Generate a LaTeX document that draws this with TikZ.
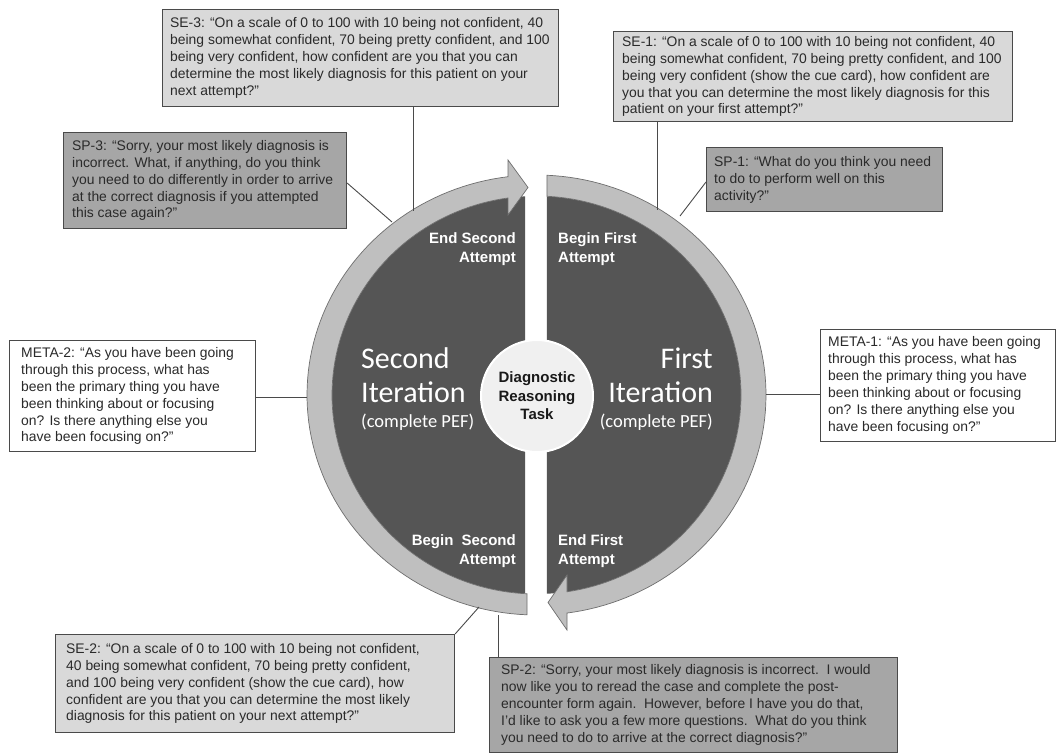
\documentclass[tikz,border=0pt]{standalone}
\usepackage{fontspec}
\setmainfont{Liberation Sans}
\newfontfamily\calib{Carlito}
\definecolor{ringfill}{HTML}{BFBFBF}
\definecolor{darkfill}{HTML}{555555}
\definecolor{boxlight}{HTML}{D9D9D9}
\definecolor{boxdark}{HTML}{A6A6A6}
\definecolor{edge}{HTML}{4A4A4A}
\definecolor{txt}{HTML}{2A2A2A}
\begin{document}
\begin{tikzpicture}[x=1pt,y=-1pt,
  qbox/.style={draw=edge, line width=1.1pt, anchor=north west, inner sep=0pt},
  lightbox/.style={qbox, fill=boxlight},
  darkbox/.style={qbox, fill=boxdark},
  whitebox/.style={qbox, fill=white},
  qtext/.style={anchor=west, align=left, inner sep=0pt, text=txt, font=\fontsize{13.9}{16.9}\selectfont},
  conn/.style={draw=edge, line width=0.9pt},
  stagelbl/.style={text=white, inner sep=0pt, font=\fontsize{15}{19.5}\selectfont\bfseries},
  bigw/.style={text=white, inner sep=0pt, font=\calib\fontsize{30}{34}\selectfont},
  smallw/.style={text=white, inner sep=0pt, font=\calib\fontsize{18.5}{22}\selectfont},
  ringpart/.style={fill=ringfill, draw=edge!80, line width=0.7pt},
]
\useasboundingbox (0,0) rectangle (1057,753);
\fill[white] (0,0) rectangle (1057,753);

% dark halves
\fill[darkfill] plot[domain=93.22:266.78, samples=90] ({536.5+204.5*cos(\x)},{395+199*sin(\x)}) -- cycle;
\fill[darkfill] plot[domain=272.94:447.06, samples=90] ({536.5+204.5*cos(\x)},{395+199*sin(\x)}) -- cycle;

% left ring with arrow at top
\path[ringpart] plot[domain=92.37:262.87, samples=90] ({536.5+229.5*cos(\x)},{395+220*sin(\x)})
  -- (508,160) -- (528,187.5) -- (508,215)
  -- plot[domain=261.99:92.66, samples=90] ({536.5+204.5*cos(\x)},{395+199*sin(\x)}) -- cycle;
% right ring with arrow at bottom
\path[ringpart] plot[domain=272.62:442.36, samples=90] ({536.5+229.5*cos(\x)},{395+220*sin(\x)})
  -- (567,630) -- (548,602.5) -- (567,575)
  -- plot[domain=441.42:272.94, samples=90] ({536.5+204.5*cos(\x)},{395+199*sin(\x)}) -- cycle;

% centre
\node[circle, fill=gray!12, draw=white, line width=2pt, minimum size=112pt, inner sep=0pt,
      align=center, font=\fontsize{15}{18.5}\selectfont\bfseries, text=black!90] (task) at (537,396)
      {Diagnostic\\Reasoning\\Task};

% half labels
\node[stagelbl, anchor=east, align=right] (es) at (516,249) {End Second\\Attempt};
\node[stagelbl, anchor=west, align=left] (bf) at (558,249) {Begin First\\Attempt};
\node[stagelbl, anchor=east, align=right] (bs) at (516,551) {Begin\hspace{4pt} Second\\Attempt};
\node[stagelbl, anchor=west, align=left] (ef) at (558,551) {End First\\Attempt};

\node[bigw, anchor=west] (sec) at (361,358) {Second};
\node[bigw, anchor=west] (it2) at (361,392) {Iteration};
\node[smallw, anchor=west] (pef2) at (361,422) {(complete PEF)};
\node[bigw, anchor=east] (fir) at (713,358) {First};
\node[bigw, anchor=east] (it1) at (713,392) {Iteration};
\node[smallw, anchor=east] (pef1) at (713,422) {(complete PEF)};

% boxes
\node[lightbox, minimum width=396pt, minimum height=97pt] (se3) at (162,9) {};
\node[qtext] (se3t) at ([xshift=8pt]se3.west)
 {SE-3: “On a scale of 0 to 100 with 10 being not confident, 40\\
  being somewhat confident, 70 being pretty confident, and 100\\
  being very confident, how confident are you that you can\\
  determine the most likely diagnosis for this patient on your\\
  next attempt?”};
\node[lightbox, minimum width=399pt, minimum height=90pt] (se1) at (613,31) {};
\node[qtext] (se1t) at ([xshift=9pt]se1.west)
 {SE-1: “On a scale of 0 to 100 with 10 being not confident, 40\\
  being somewhat confident, 70 being pretty confident, and 100\\
  being very confident (show the cue card), how confident are\\
  you that you can determine the most likely diagnosis for this\\
  patient on your first attempt?”};
\node[darkbox, minimum width=283pt, minimum height=96pt] (sp3) at (63,132) {};
\node[qtext] (sp3t) at ([xshift=9pt]sp3.west)
 {SP-3: “Sorry, your most likely diagnosis is\\
  incorrect. What, if anything, do you think\\
  you need to do differently in order to arrive\\
  at the correct diagnosis if you attempted\\
  this case again?”};
\node[darkbox, minimum width=236pt, minimum height=64pt] (sp1) at (706,147) {};
\node[qtext] (sp1t) at ([xshift=8pt]sp1.west)
 {SP-1: “What do you think you need\\
  to do to perform well on this\\
  activity?”};
\node[whitebox, minimum width=246pt, minimum height=111pt] (meta2) at (9,340) {};
\node[qtext] (meta2t) at ([xshift=12pt]meta2.west)
 {META-2: “As you have been going\\
  through this process, what has\\
  been the primary thing you have\\
  been thinking about or focusing\\
  on? Is there anything else you\\
  have been focusing on?”};
\node[whitebox, minimum width=235pt, minimum height=112pt] (meta1) at (820,329) {};
\node[qtext] (meta1t) at ([xshift=8pt]meta1.west)
 {META-1: “As you have been going\\
  through this process, what has\\
  been the primary thing you have\\
  been thinking about or focusing\\
  on? Is there anything else you\\
  have been focusing on?”};
\node[lightbox, minimum width=399pt, minimum height=98pt] (se2) at (55,634) {};
\node[qtext] (se2t) at ([xshift=11pt]se2.west)
 {SE-2: “On a scale of 0 to 100 with 10 being not confident,\\
  40 being somewhat confident, 70 being pretty confident,\\
  and 100 being very confident (show the cue card), how\\
  confident are you that you can determine the most likely\\
  diagnosis for this patient on your next attempt?”};
\node[darkbox, minimum width=408pt, minimum height=95pt] (sp2) at (489,657) {};
\node[qtext] (sp2t) at ([xshift=12pt]sp2.west)
 {SP-2: “Sorry, your most likely diagnosis is incorrect.\ \ I would\\
  now like you to reread the case and complete the post-\\
  encounter form again.\ \ However, before I have you do that,\\
  I’d like to ask you a few more questions.\ \ What do you think\\
  you need to do to arrive at the correct diagnosis?”};

% connector ends on the ring
\coordinate (r3) at (413,211);
\coordinate (r1) at (657,210);
\coordinate (rp3) at (392,222);
\coordinate (rp1) at (680,216);
\coordinate (rm2) at (307,397);
\coordinate (rm1) at (766,394);
\coordinate (rs2) at (479,607);
\coordinate (rp2) at (498,615);

\draw[conn] (se3.south -| r3) -- (r3);
\draw[conn] (se1.south -| r1) -- (r1);
\draw[conn] (sp3.east |- 0,183) -- (rp3);
\draw[conn] (sp1.west |- 0,182) -- (rp1);
\draw[conn] (meta2.east |- rm2) -- (rm2);
\draw[conn] (meta1.west |- rm1) -- (rm1);
\draw[conn] (se2.north east) -- (rs2);
\draw[conn] (sp2.north -| rp2) -- (rp2);
\end{tikzpicture}
\end{document}
